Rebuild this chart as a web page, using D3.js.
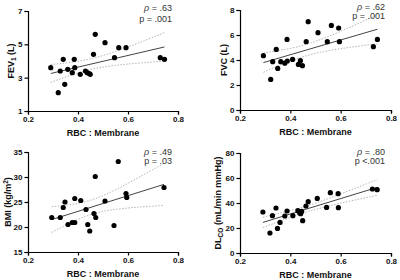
<!DOCTYPE html>
<html>
<head>
<meta charset="utf-8">
<script src="https://cdn.jsdelivr.net/npm/d3@7"></script>
<style>
  html, body { margin: 0; padding: 0; background: #fff; }
  svg { display: block; font-family: "Liberation Sans", Arial, sans-serif; }
  .tick text { font-weight: bold; font-size: 8px; fill: #111; }
  .axis path, .axis line { stroke: #000; stroke-width: 1.2; }
</style>
</head>
<body>
<svg id="chart" width="400" height="280"></svg>
<script>
// values (RBC : Membrane ratio vs. outcome)
const fev1Rbc = [0.291, 0.321, 0.329, 0.341, 0.347, 0.359, 0.377, 0.385, 0.387, 0.409, 0.430,
  0.437, 0.445, 0.449, 0.462, 0.469, 0.508, 0.546, 0.563, 0.592, 0.729, 0.746];
const fev1Vals = [3.6, 2.1, 3.4, 4.1, 2.6, 3.5, 3.3, 4.1, 3.6, 3.2, 3.4,
  3.3, 3.25, 3.2, 4.4, 5.6, 5.1, 4.2, 4.8, 4.8, 4.2, 4.1];

const fvcRbc = [0.293, 0.322, 0.330, 0.344, 0.350, 0.362, 0.378, 0.387, 0.388, 0.409, 0.432,
  0.440, 0.448, 0.463, 0.471, 0.510, 0.547, 0.563, 0.592, 0.595, 0.730, 0.746];
const fvcVals = [4.35, 2.45, 3.87, 4.85, 3.33, 3.87, 3.75, 5.65, 3.92, 4.05, 3.65,
  3.95, 3.55, 5.47, 7.07, 6.19, 5.47, 6.77, 6.56, 5.47, 5.07, 5.65];

const bmiRbc = [0.295, 0.329, 0.341, 0.348, 0.360, 0.377, 0.387, 0.387, 0.411, 0.432, 0.439,
  0.447, 0.464, 0.469, 0.471, 0.508, 0.544, 0.561, 0.592, 0.595, 0.744];
const bmiVals = [21.9, 21.9, 23.9, 25.0, 20.5, 20.9, 20.9, 25.7, 25.3, 23.5, 20.5,
  19.2, 22.7, 30.1, 21.9, 25.2, 20.3, 33.1, 26.7, 25.9, 27.9];

const dlcoRbc = [0.291, 0.319, 0.329, 0.343, 0.349, 0.359, 0.378, 0.387, 0.410, 0.430, 0.437,
  0.441, 0.445, 0.449, 0.462, 0.471, 0.507, 0.544, 0.559, 0.590, 0.591, 0.726, 0.745];
const dlcoVals = [32.8, 16.0, 29.9, 36.0, 19.7, 24.5, 29.6, 33.6, 29.9, 33.9, 32.3,
  31.5, 33.3, 25.9, 37.6, 41.1, 43.7, 36.5, 48.3, 47.5, 36.3, 51.2, 50.7];

const xTicks = [0.2, 0.4, 0.6, 0.8];
const fev1Ticks = [1, 3, 5, 7];
const fvcTicks = [0, 2, 4, 6, 8];
const bmiTicks = [15, 20, 25, 30, 35];
const dlcoTicks = [0, 20, 40, 60, 80];

const rhoLabels = ['.63', '.62', '.49', '.80'];
const pLabels = ['= .001', '= .001', '= .03', '<.001'];

// layout of the 2x2 grid
const panels = [
  { xs: fev1Rbc, ys: fev1Vals, ticks: fev1Ticks, x0: 28, x1: 178, y0: 11, y1: 111,
    label: [['FEV', ''], ['1', 'sub'], [' (L)', '']], labelX: 11, statY: 11, statGap: 11 },
  { xs: fvcRbc, ys: fvcVals, ticks: fvcTicks, x0: 240, x1: 391, y0: 10, y1: 110,
    label: [['FVC (L)', '']], labelX: 224, statY: 10, statGap: 8.5 },
  { xs: bmiRbc, ys: bmiVals, ticks: bmiTicks, x0: 28, x1: 178, y0: 152, y1: 252,
    label: [['BMI (kg/m', ''], ['2', 'sup'], [')', '']], labelX: 8, statY: 155, statGap: 9 },
  { xs: dlcoRbc, ys: dlcoVals, ticks: dlcoTicks, x0: 240, x1: 391, y0: 153, y1: 253,
    label: [['DL', ''], ['CO', 'sub'], [' (mL/min mmHg)', '']], labelX: 218, statY: 155, statGap: 9 }
];

const svg = d3.select('#chart');

// ordinary least squares + 95% confidence band of the mean
function regression(xs, ys) {
  const n = xs.length;
  const mx = d3.mean(xs), my = d3.mean(ys);
  let sxx = 0, sxy = 0;
  xs.forEach((x, i) => { sxx += (x - mx) ** 2; sxy += (x - mx) * (ys[i] - my); });
  const b = sxy / sxx, a = my - b * mx;
  let sse = 0;
  xs.forEach((x, i) => { sse += (ys[i] - a - b * x) ** 2; });
  const s = Math.sqrt(sse / (n - 2));
  const t = 2.09;
  const band = x => t * s * Math.sqrt(1 / n + (x - mx) ** 2 / sxx);
  return { fit: x => a + b * x, band };
}

panels.forEach((p, i) => {
  const x = d3.scaleLinear().domain([0.2, 0.8]).range([p.x0, p.x1]);
  const y = d3.scaleLinear().domain(d3.extent(p.ticks)).range([p.y1, p.y0]);
  const g = svg.append('g');

  // regression line and dotted CI curves
  const reg = regression(p.xs, p.ys);
  const [lo, hi] = d3.extent(p.xs);
  const grid = d3.range(0, 41).map(k => lo + (hi - lo) * k / 40);
  const line = d3.line().x(d => x(d[0])).y(d => y(d[1]));

  g.append('path')
    .attr('d', line(grid.map(v => [v, reg.fit(v) + reg.band(v)])))
    .attr('fill', 'none').attr('stroke', '#aaa').attr('stroke-width', 0.9)
    .attr('stroke-dasharray', '1.5,1.5');
  g.append('path')
    .attr('d', line(grid.map(v => [v, reg.fit(v) - reg.band(v)])))
    .attr('fill', 'none').attr('stroke', '#aaa').attr('stroke-width', 0.9)
    .attr('stroke-dasharray', '1.5,1.5');
  g.append('path')
    .attr('d', line([[lo, reg.fit(lo)], [hi, reg.fit(hi)]]))
    .attr('fill', 'none').attr('stroke', '#444').attr('stroke-width', 1);

  // points
  g.selectAll('circle')
    .data(p.xs.map((v, k) => [v, p.ys[k]]))
    .enter().append('circle')
    .attr('cx', d => x(d[0]))
    .attr('cy', d => y(d[1]))
    .attr('r', 2.6)
    .attr('fill', '#000');

  // axes
  g.append('g').attr('class', 'axis')
    .attr('transform', `translate(0,${p.y1})`)
    .call(d3.axisBottom(x).tickValues(xTicks).tickFormat(d3.format('.1f')).tickSize(3.5).tickPadding(2));
  g.append('g').attr('class', 'axis')
    .attr('transform', `translate(${p.x0},0)`)
    .call(d3.axisLeft(y).tickValues(p.ticks).tickFormat(d3.format('d')).tickSize(3.5).tickPadding(2));
  g.selectAll('.axis .domain').attr('stroke-width', 1.3);

  // axis titles
  g.append('text')
    .attr('x', (p.x0 + p.x1) / 2)
    .attr('y', p.y1 + 25)
    .attr('text-anchor', 'middle')
    .attr('font-size', 9).attr('font-weight', 'bold').attr('fill', '#111')
    .text('RBC : Membrane');

  const yl = g.append('text')
    .attr('transform', `translate(${p.labelX},${(p.y0 + p.y1) / 2}) rotate(-90)`)
    .attr('text-anchor', 'middle')
    .attr('dy', '0.35em')
    .attr('font-size', 9).attr('font-weight', 'bold').attr('fill', '#111');
  p.label.forEach(([str, kind]) => {
    const ts = yl.append('tspan').text(str);
    if (kind === 'sub') ts.attr('font-size', 6.5).attr('dy', 2);
    if (kind === 'sup') ts.attr('font-size', 6.5).attr('dy', -3.5);
  });
  // reset baseline after shifted tspans
  yl.selectAll('tspan').each(function(d, k) {
    const kind = p.label[k][1];
    const prev = k > 0 ? p.label[k - 1][1] : '';
    if (!kind && prev === 'sub') d3.select(this).attr('dy', -2);
    if (!kind && prev === 'sup') d3.select(this).attr('dy', 3.5);
  });

  // correlation stats
  const sx = p.x1 - 6;
  const rho = g.append('text')
    .attr('x', sx).attr('y', p.statY)
    .attr('text-anchor', 'end')
    .attr('font-size', 9).attr('fill', '#333');
  rho.append('tspan').attr('font-style', 'italic').text('ρ');
  rho.append('tspan').text(' = ' + rhoLabels[i]);
  g.append('text')
    .attr('x', sx).attr('y', p.statY + p.statGap)
    .attr('text-anchor', 'end')
    .attr('font-size', 9).attr('fill', '#333')
    .text('p ' + pLabels[i]);
});
</script>
</body>
</html>
